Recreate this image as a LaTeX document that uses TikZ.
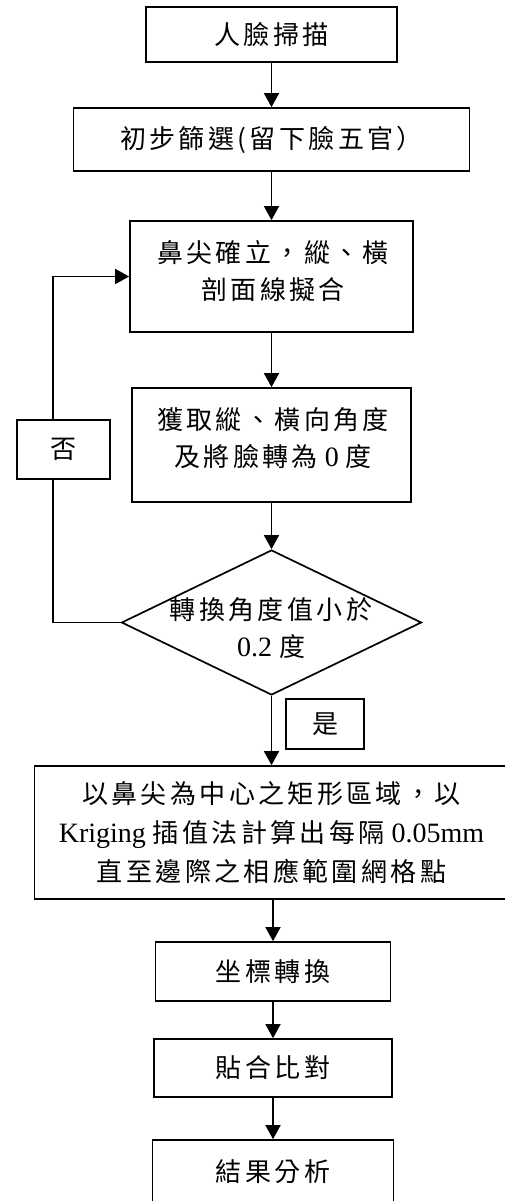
\documentclass[tikz,border=0pt]{standalone}
\usepackage{fontspec}
\setmainfont{Liberation Serif}
\newfontfamily\cjk[LetterSpace=13]{Noto Sans CJK TC}
\newcommand\lat[1]{{\fontsize{28}{39}\rmfamily #1}}
\usetikzlibrary{arrows.meta,shapes.geometric}
\begin{document}
\begin{tikzpicture}[x=1pt,y=-1pt,
  box/.style={draw, line width=1.7pt, fill=white, inner sep=0pt, align=center,
    font=\cjk\fontsize{26}{37}\selectfont},
  arr/.style={line width=1.7pt, -{Triangle[width=15pt,length=14pt]}},
  ln/.style={line width=1.7pt},
  txt/.style={inner sep=0pt, align=center, font=\cjk\fontsize{26}{37}\selectfont}]
\clip (0,0) rectangle (505,1201);
\node[box, minimum width=251pt, minimum height=55pt] (b1) at (271.5,34.5) {人臉掃描};
\node[box, minimum width=396pt, minimum height=63pt] (b2) at (271.5,139.5) {初步篩選(留下臉五官）};
\node[box, minimum width=283pt, minimum height=111pt] (b3) at (271.5,276.5) {};
\node[txt] (t3) at (273,271) {鼻尖確立，縱、橫\\剖面線擬合};
\node[box, minimum width=279pt, minimum height=114pt] (b4) at (271.5,445) {};
\node[txt] (t4) at (273,438) {獲取縱、橫向角度\\及將臉轉為\lat{ 0 }度};
\node[draw, diamond, line width=1.7pt, inner sep=0pt, minimum width=300pt, minimum height=145pt] (dia) at (271.5,622.5) {};
\node[txt] (tdia) at (271,628) {轉換角度值小於\\\lat{0.2 }度};
\node[box, minimum width=78pt, minimum height=50pt] (yes) at (325,724) {是};
\node[box, minimum width=93pt, minimum height=59pt] (no) at (63.5,449.5) {否};
\node[box, minimum width=474pt, minimum height=133pt, font=\cjk\fontsize{26}{39}\selectfont] (b5) at (271.5,832.5)
  {以鼻尖為中心之矩形區域，以\\\lat{Kriging }插值法計算出每隔\lat{ 0.05mm}\\直至邊際之相應範圍網格點};
\node[box, minimum width=235pt, minimum height=59pt] (b6) at (273,971.5) {坐標轉換};
\node[box, minimum width=238pt, minimum height=58pt] (b7) at (273,1068) {貼合比對};
\node[box, minimum width=241pt, minimum height=63pt] (b8) at (273,1171.5) {結果分析};
\coordinate (c) at (53,622.5);
\draw[arr] (b1.south) -- (b2.north);
\draw[arr] (b2.south) -- (b3.north);
\draw[arr] (b3.south) -- (b4.north);
\draw[arr] (b4.south) -- (dia.north);
\draw[arr] (dia.south) -- (dia.south |- b5.north);
\draw[arr] (b5.south -| b6.north) -- (b6.north);
\draw[arr] (b6.south) -- (b7.north);
\draw[arr] (b7.south) -- (b8.north);
\draw[ln] (dia.west) -- (c) -- (c |- no.south);
\draw[arr] (c |- no.north) |- (b3.west);
\end{tikzpicture}
\end{document}
